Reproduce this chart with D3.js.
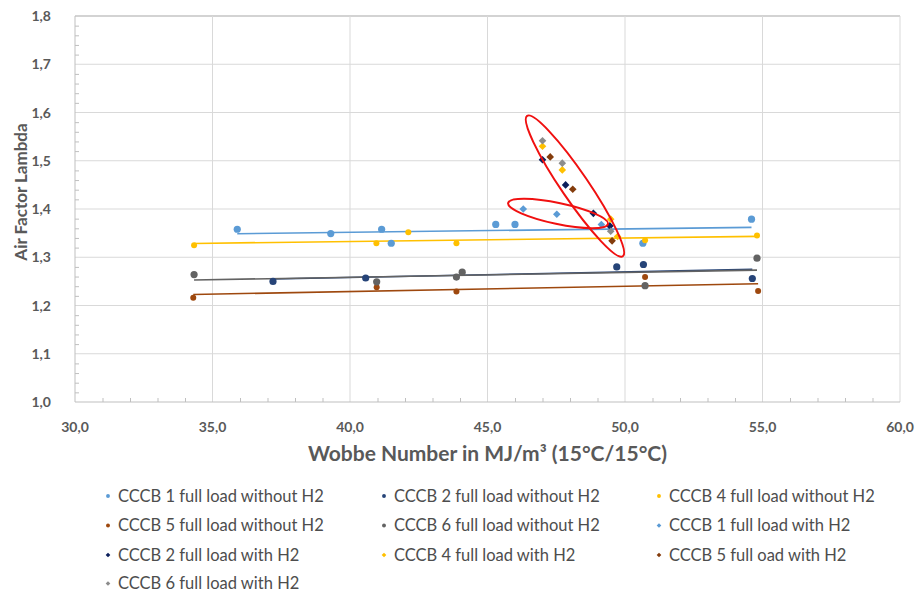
<!DOCTYPE html>
<html>
<head>
<meta charset="utf-8">
<script src="https://cdn.jsdelivr.net/npm/d3@7"></script>
<style>
  html, body { margin: 0; padding: 0; background: #fff; }
  svg { display: block; font-family: Lato, "Open Sans", sans-serif; }
</style>
</head>
<body>
<svg id="chart" width="917" height="593"></svg>
<script>
// Axis ticks
const xTicks = [30, 35, 40, 45, 50, 55, 60];
const yTicks = [1.0, 1.1, 1.2, 1.3, 1.4, 1.5, 1.6, 1.7, 1.8];

// Legend labels
const seriesNames = [
  "CCCB 1 full load without H2", "CCCB 2 full load without H2", "CCCB 4 full load without H2",
  "CCCB 5 full load without H2", "CCCB 6 full load without H2", "CCCB 1 full load with H2",
  "CCCB 2 full load with H2", "CCCB 4 full load with H2", "CCCB 5 full oad with H2",
  "CCCB 6 full load with H2"
];

// Measurements: Wobbe number (MJ/m³) and air factor lambda
const cccb1NoH2Wobbe  = [35.9, 39.3, 41.15, 41.5, 45.3, 46.0, 50.65, 54.6];
const cccb1NoH2Lambda = [1.358, 1.349, 1.358, 1.329, 1.368, 1.368, 1.329, 1.379];
const cccb2NoH2Wobbe  = [37.2, 40.57, 49.7, 50.67, 54.63];
const cccb2NoH2Lambda = [1.25, 1.257, 1.28, 1.285, 1.256];
const cccb4NoH2Wobbe  = [34.33, 40.96, 42.12, 43.87, 50.73, 54.8];
const cccb4NoH2Lambda = [1.325, 1.329, 1.352, 1.329, 1.335, 1.345];
const cccb5NoH2Wobbe  = [34.3, 40.97, 43.87, 50.73, 54.84];
const cccb5NoH2Lambda = [1.216, 1.238, 1.229, 1.259, 1.23];
const cccb6NoH2Wobbe  = [34.33, 40.97, 43.87, 44.08, 50.73, 54.8];
const cccb6NoH2Lambda = [1.264, 1.249, 1.259, 1.269, 1.241, 1.298];

const cccb1H2Wobbe  = [46.3, 47.52, 49.14];
const cccb1H2Lambda = [1.40, 1.389, 1.368];
const cccb2H2Wobbe  = [47.0, 47.84, 48.85, 49.45];
const cccb2H2Lambda = [1.502, 1.45, 1.391, 1.365];
const cccb4H2Wobbe  = [47.0, 47.72, 49.48, 49.73];
const cccb4H2Lambda = [1.530, 1.481, 1.379, 1.343];
const cccb5H2Wobbe  = [47.28, 48.10, 49.53];
const cccb5H2Lambda = [1.508, 1.441, 1.334];
const cccb6H2Wobbe  = [47.0, 47.72, 49.48];
const cccb6H2Lambda = [1.5415, 1.495, 1.354];

// Highlight ellipses: major-axis end points in data units
const ellipseStarts = [[46.44, 1.593], [45.75, 1.4124]];
const ellipseEnds   = [[49.92, 1.302], [49.38, 1.3689]];

const colors = ["#5B9BD5", "#264478", "#FFC000", "#9E480E", "#636363",
                "#5B9BD5", "#0B1F5C", "#FFC000", "#843C0C", "#8C8C8C"];

const series = [
  { x: cccb1NoH2Wobbe, y: cccb1NoH2Lambda, shape: "circle", r: 3.6, trend: true },
  { x: cccb2NoH2Wobbe, y: cccb2NoH2Lambda, shape: "circle", r: 3.6, trend: true },
  { x: cccb4NoH2Wobbe, y: cccb4NoH2Lambda, shape: "circle", r: 3.0, trend: true },
  { x: cccb5NoH2Wobbe, y: cccb5NoH2Lambda, shape: "circle", r: 3.0, trend: true },
  { x: cccb6NoH2Wobbe, y: cccb6NoH2Lambda, shape: "circle", r: 3.6, trend: true },
  { x: cccb1H2Wobbe, y: cccb1H2Lambda, shape: "diamond", r: 4.3, trend: false },
  { x: cccb2H2Wobbe, y: cccb2H2Lambda, shape: "diamond", r: 4.3, trend: false },
  { x: cccb4H2Wobbe, y: cccb4H2Lambda, shape: "diamond", r: 4.3, trend: false },
  { x: cccb5H2Wobbe, y: cccb5H2Lambda, shape: "diamond", r: 4.3, trend: false },
  { x: cccb6H2Wobbe, y: cccb6H2Lambda, shape: "diamond", r: 4.3, trend: false }
].map((s, i) => ({ ...s, name: seriesNames[i], color: colors[i] }));

const svg = d3.select("#chart");
const plot = { left: 75, right: 900, top: 16, bottom: 402 };

const x = d3.scaleLinear().domain([30, 60]).range([plot.left, plot.right]);
const y = d3.scaleLinear().domain([1.0, 1.8]).range([plot.bottom, plot.top]);

const textColor = "#595959";
const fmt = v => d3.format(".1f")(v).replace(".", ",");

// Gridlines
const grid = svg.append("g");
grid.selectAll("line.h").data(yTicks.slice(1)).join("line")
  .attr("x1", plot.left).attr("x2", plot.right)
  .attr("y1", d => y(d)).attr("y2", d => y(d))
  .attr("stroke", d => d === 1.8 ? "#c4c4c4" : "#d9d9d9").attr("stroke-width", d => d === 1.8 ? 1.5 : 1);
grid.selectAll("line.v").data(xTicks.slice(1)).join("line")
  .attr("x1", d => x(d)).attr("x2", d => x(d))
  .attr("y1", plot.top).attr("y2", plot.bottom)
  .attr("stroke", "#d9d9d9").attr("stroke-width", 1);

// Axes with inward minor ticks
const xMinor = d3.range(31, 60, 1).filter(v => v % 5 !== 0);
const yMinor = d3.range(1.02, 1.8, 0.02).filter(v => Math.abs(v * 10 - Math.round(v * 10)) > 1e-6);

const xAxis = svg.append("g").attr("transform", `translate(0,${plot.bottom})`)
  .call(d3.axisBottom(x).tickValues(xMinor).tickSize(-4).tickFormat(""));
xAxis.select(".domain").attr("stroke", "#bfbfbf").attr("d", `M${plot.left},0H${plot.right}`);
xAxis.selectAll(".tick line").attr("stroke", "#bfbfbf");

const yAxis = svg.append("g").attr("transform", `translate(${plot.left},0)`)
  .call(d3.axisLeft(y).tickValues(yMinor).tickSize(-4).tickFormat(""));
yAxis.select(".domain").attr("stroke", "#bfbfbf").attr("d", `M0,${plot.bottom}V${plot.top}`);
yAxis.selectAll(".tick line").attr("stroke", "#bfbfbf");

// Tick labels
svg.append("g").selectAll("text").data(xTicks).join("text")
  .attr("x", d => x(d)).attr("y", 432)
  .attr("text-anchor", "middle").attr("fill", textColor)
  .attr("font-size", 14).attr("font-weight", 700)
  .text(fmt);
svg.append("g").selectAll("text").data(yTicks).join("text")
  .attr("x", 51).attr("y", d => y(d) + 5)
  .attr("text-anchor", "end").attr("fill", textColor)
  .attr("font-size", 14).attr("font-weight", 700)
  .text(fmt);

// Axis titles
svg.append("text")
  .attr("x", (plot.left + plot.right) / 2).attr("y", 461)
  .attr("text-anchor", "middle").attr("fill", textColor)
  .attr("font-size", 21).attr("font-weight", 700)
  .text("Wobbe Number in MJ/m³ (15°C/15°C)");
svg.append("text")
  .attr("transform", "translate(27,192) rotate(-90)")
  .attr("text-anchor", "middle").attr("fill", textColor)
  .attr("font-size", 17).attr("font-weight", 700)
  .text("Air Factor Lambda");

// Linear least-squares trendlines for the series without H2
function regression(xs, ys) {
  const mx = d3.mean(xs), my = d3.mean(ys);
  const sxy = d3.sum(xs, (v, i) => (v - mx) * (ys[i] - my));
  const sxx = d3.sum(xs, v => (v - mx) ** 2);
  const b = sxy / sxx;
  return v => my + b * (v - mx);
}
const trends = svg.append("g");
series.filter(s => s.trend).forEach(s => {
  const f = regression(s.x, s.y);
  const [x0, x1] = d3.extent(s.x);
  trends.append("line")
    .attr("x1", x(x0)).attr("y1", y(f(x0)))
    .attr("x2", x(x1)).attr("y2", y(f(x1)))
    .attr("stroke", s.color).attr("stroke-width", 1.6);
});

// Markers
const symbolFor = (shape, r) => shape === "circle"
  ? d3.symbol(d3.symbolCircle, Math.PI * r * r)()
  : d3.symbol(d3.symbolDiamond2, 2 * r * r)();

series.forEach(s => {
  svg.append("g").selectAll("path")
    .data(s.x.map((v, i) => [v, s.y[i]]))
    .join("path")
    .attr("transform", d => `translate(${x(d[0])},${y(d[1])})`)
    .attr("d", symbolFor(s.shape, s.r))
    .attr("fill", s.color);
});

// Red highlight ellipses
const ellipseHalfWidths = [13.5, 10.5];
ellipseStarts.forEach((p0, i) => {
  const p1 = ellipseEnds[i];
  const ax = x(p0[0]), ay = y(p0[1]), bx = x(p1[0]), by = y(p1[1]);
  const cx = (ax + bx) / 2, cy = (ay + by) / 2;
  const rx = Math.hypot(bx - ax, by - ay) / 2;
  const ang = Math.atan2(by - ay, bx - ax) * 180 / Math.PI;
  svg.append("ellipse")
    .attr("transform", `translate(${cx},${cy}) rotate(${ang})`)
    .attr("rx", rx).attr("ry", ellipseHalfWidths[i])
    .attr("fill", "none").attr("stroke", "#F01010").attr("stroke-width", 2);
});

// Legend
const legendCols = [108, 384, 659];
const legendRows = [496, 525.5, 555, 583.5];
const legend = svg.append("g");
series.forEach((s, i) => {
  const lx = legendCols[i % 3], ly = legendRows[Math.floor(i / 3)];
  legend.append("path")
    .attr("transform", `translate(${lx},${ly})`)
    .attr("d", s.shape === "circle" ? d3.symbol(d3.symbolCircle, 12)() : d3.symbol(d3.symbolDiamond2, 14)())
    .attr("fill", s.color);
  legend.append("text")
    .attr("x", lx + 10).attr("y", ly + 5.5)
    .attr("fill", "#4d4d4d").attr("font-size", 16.5)
    .text(s.name);
});
</script>
</body>
</html>
